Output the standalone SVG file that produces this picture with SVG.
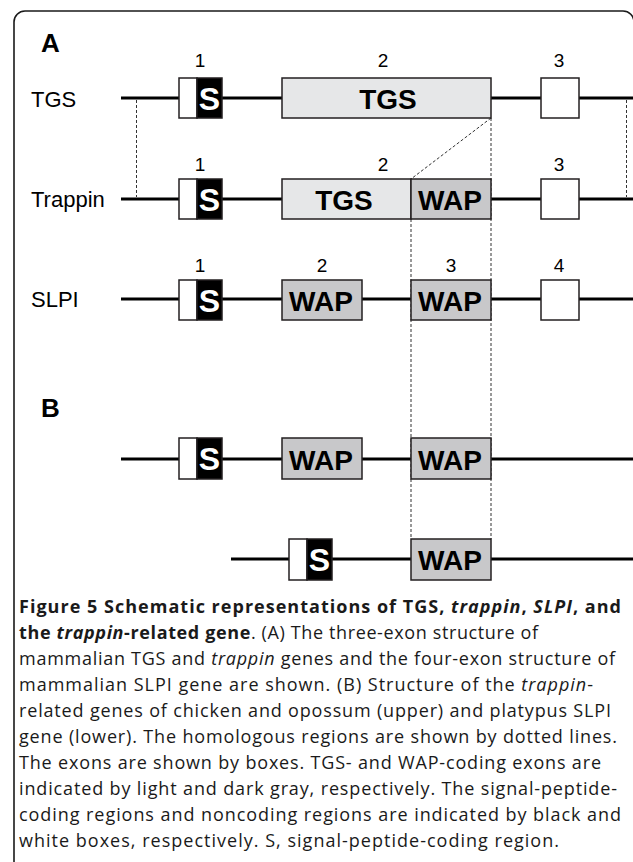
<svg xmlns="http://www.w3.org/2000/svg" width="633" height="862" viewBox="0 0 633 862">
<defs>
<style>
.frame{fill:none;stroke:#1a1a1a;stroke-width:1.6}
.gene{stroke:#000;stroke-width:3;fill:none}
.dot{stroke:#333;stroke-width:1;stroke-dasharray:3 2;fill:none}
.nc{fill:#fff;stroke:#231f20;stroke-width:1.5}
.sp{fill:#000;stroke:#231f20;stroke-width:1.5}
.tgs{fill:#e6e7e8;stroke:#231f20;stroke-width:1.5}
.wap{fill:#c8c8ca;stroke:#231f20;stroke-width:1.5}
.lbl{font-family:"Liberation Sans",Arial,sans-serif;font-size:22px;fill:#000}
.num{font-family:"Liberation Sans",Arial,sans-serif;font-size:19px;fill:#000;text-anchor:middle}
.panel{font-family:"Liberation Sans",Arial,sans-serif;font-size:26px;font-weight:bold;fill:#000}
.bx{font-family:"Liberation Sans",Arial,sans-serif;font-size:28px;font-weight:bold;fill:#000;text-anchor:middle}
.s{font-family:"Liberation Sans",Arial,sans-serif;font-size:32px;font-weight:bold;fill:#fff;text-anchor:middle}
.cap{font-family:"Open Sans","Noto Sans",sans-serif;font-size:18px;fill:#1a1a1a}
.capb{font-weight:bold}
.it{font-style:italic}
</style>
</defs>
<rect class="frame" x="14" y="11" width="620" height="900" rx="11"/>
<text class="panel" x="41" y="52">A</text>
<text class="panel" x="41" y="417">B</text>
<text class="lbl" x="31" y="107">TGS</text>
<text class="lbl" x="31" y="207">Trappin</text>
<text class="lbl" x="31" y="307">SLPI</text>
<g id="connectors">
<line class="gene" x1="121" y1="98" x2="633" y2="98"/>
<line class="gene" x1="121" y1="199" x2="633" y2="199"/>
<line class="gene" x1="121" y1="299" x2="633" y2="299"/>
<line class="gene" x1="121" y1="459" x2="633" y2="459"/>
<line class="gene" x1="231" y1="559" x2="633" y2="559"/>
<line class="dot" x1="136.5" y1="100" x2="136.5" y2="197"/>
<line class="dot" x1="626.5" y1="100" x2="626.5" y2="197"/>
<line class="dot" x1="491" y1="118" x2="411" y2="179"/>
<line class="dot" x1="491" y1="118" x2="491" y2="539"/>
<line class="dot" x1="411" y1="219" x2="411" y2="539"/>
</g>
<g id="tgs-gene">
<text class="num" x="200" y="67">1</text>
<text class="num" x="383" y="67">2</text>
<text class="num" x="559" y="67">3</text>
<g id="tgs-e1"><rect class="nc" x="179" y="78" width="18" height="40"/><rect class="sp" x="197" y="78" width="25" height="40"/><text class="s" x="209.5" y="110">S</text></g>
<g id="tgs-e2"><rect class="tgs" x="282" y="78" width="209" height="40"/><text class="bx" x="388" y="109">TGS</text></g>
<g id="tgs-e3"><rect class="nc" x="541" y="78" width="38" height="40"/></g>
</g>
<g id="trappin-gene">
<text class="num" x="200" y="171">1</text>
<text class="num" x="383" y="171">2</text>
<text class="num" x="559" y="171">3</text>
<g id="tr-e1"><rect class="nc" x="179" y="179" width="18" height="40"/><rect class="sp" x="197" y="179" width="25" height="40"/><text class="s" x="209.5" y="211">S</text></g>
<g id="tr-e2"><rect class="tgs" x="282" y="179" width="129" height="40"/><rect class="wap" x="411" y="179" width="80" height="40"/><text class="bx" x="344" y="210">TGS</text><text class="bx" x="450" y="210">WAP</text></g>
<g id="tr-e3"><rect class="nc" x="541" y="179" width="38" height="40"/></g>
</g>
<g id="slpi-gene">
<text class="num" x="200" y="272">1</text>
<text class="num" x="322" y="272">2</text>
<text class="num" x="451" y="272">3</text>
<text class="num" x="559" y="272">4</text>
<g id="sl-e1"><rect class="nc" x="179" y="280" width="18" height="40"/><rect class="sp" x="197" y="280" width="25" height="40"/><text class="s" x="209.5" y="312">S</text></g>
<g id="sl-e2"><rect class="wap" x="282" y="280" width="80" height="40"/><text class="bx" x="321" y="311">WAP</text></g>
<g id="sl-e3"><rect class="wap" x="411" y="280" width="80" height="40"/><text class="bx" x="450" y="311">WAP</text></g>
<g id="sl-e4"><rect class="nc" x="541" y="280" width="38" height="40"/></g>
</g>
<g id="b-upper-gene">
<g id="bu-e1"><rect class="nc" x="179" y="438" width="18" height="41"/><rect class="sp" x="197" y="438" width="25" height="41"/><text class="s" x="209.5" y="470">S</text></g>
<g id="bu-e2"><rect class="wap" x="282" y="438" width="80" height="41"/><text class="bx" x="321" y="470">WAP</text></g>
<g id="bu-e3"><rect class="wap" x="411" y="438" width="80" height="41"/><text class="bx" x="450" y="470">WAP</text></g>
</g>
<g id="b-lower-gene">
<g id="bl-e1"><rect class="nc" x="289" y="539" width="18" height="41"/><rect class="sp" x="307" y="539" width="25" height="41"/><text class="s" x="319.5" y="571">S</text></g>
<g id="bl-e2"><rect class="wap" x="411" y="539" width="80" height="41"/><text class="bx" x="450" y="570">WAP</text></g>
</g>
<g id="caption" class="cap">
<text x="19" y="613" class="capb" textLength="602">Figure 5 Schematic representations of TGS, <tspan class="it">trappin</tspan>, <tspan class="it">SLPI</tspan>, and</text>
<text x="19" y="639" textLength="519"><tspan class="capb">the <tspan class="it">trappin</tspan>-related gene</tspan>. (A) The three-exon structure of</text>
<text x="19" y="665" textLength="596">mammalian TGS and <tspan class="it">trappin</tspan> genes and the four-exon structure of</text>
<text x="19" y="691" textLength="574">mammalian SLPI gene are shown. (B) Structure of the <tspan class="it">trappin</tspan>-</text>
<text x="19" y="717" textLength="592">related genes of chicken and opossum (upper) and platypus SLPI</text>
<text x="19" y="743" textLength="598">gene (lower). The homologous regions are shown by dotted lines.</text>
<text x="19" y="769" textLength="582">The exons are shown by boxes. TGS- and WAP-coding exons are</text>
<text x="19" y="795" textLength="598">indicated by light and dark gray, respectively. The signal-peptide-</text>
<text x="19" y="821" textLength="602">coding regions and noncoding regions are indicated by black and</text>
<text x="19" y="847" textLength="540">white boxes, respectively. S, signal-peptide-coding region.</text>
</g>
</svg>
